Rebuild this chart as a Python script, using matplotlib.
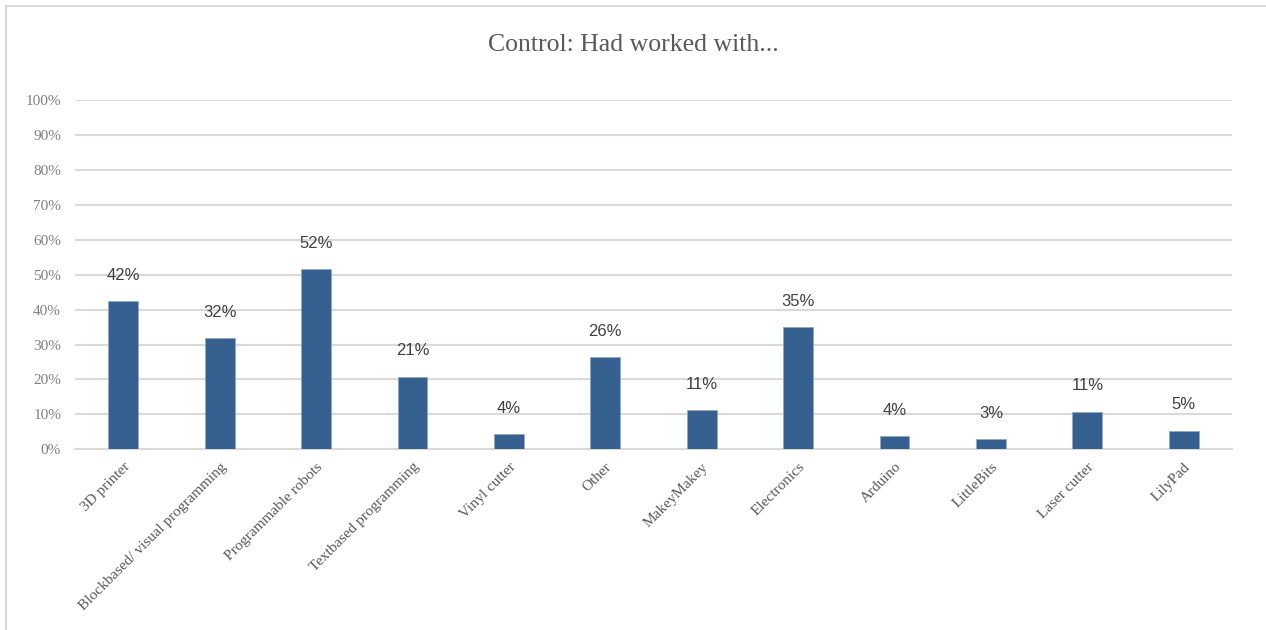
import matplotlib.pyplot as plt
from matplotlib.patches import Rectangle

# Share of control-group students who had worked with each tool
tools = ["3D printer", "Blockbased/ visual programming", "Programmable robots",
         "Textbased programming", "Vinyl cutter", "Other", "MakeyMakey",
         "Electronics", "Arduino", "LittleBits", "Laser cutter", "LilyPad"]
share = [42.4, 31.8, 51.6, 20.7, 4.3, 26.4, 11.2, 35.0, 3.8, 2.9, 10.8, 5.3]
y_ticks = [0, 10, 20, 30, 40, 50, 60, 70, 80, 90, 100]

bar_color = "#36608f"
grid_color = "#d9d9d9"
serif = ["Liberation Serif", "DejaVu Serif"]

fig = plt.figure(figsize=(12.66, 6.30), dpi=100)
ax = fig.add_axes([75 / 1266, 1 - 449.3 / 630, (1232 - 75) / 1266, (449.3 - 100) / 630])

x = list(range(len(tools)))
ax.bar(x, share, width=0.31, color=bar_color, edgecolor="#8ea9c8", linewidth=0.6, zorder=3)

for xi, v in zip(x, share):
    ax.annotate(f"{v:.0f}%", (xi, v), xytext=(0, 26), textcoords="offset pixels",
                ha="center", va="center", fontsize=12, color="#404040",
                family=["Liberation Sans", "DejaVu Sans"])

ax.set_xlim(-0.5, len(tools) - 0.5)
ax.set_ylim(0, 100)
ax.set_yticks(y_ticks)
ax.set_yticklabels([f"{t}%" for t in y_ticks], family=serif, fontsize=11, color="#7f7f7f")
ax.yaxis.grid(True, color=grid_color, linewidth=1.5, zorder=0)
ax.set_xticks(x)
ax.set_xticklabels(tools, rotation=45, ha="right", rotation_mode="anchor",
                   family=serif, fontsize=11, color="#595959")
ax.tick_params(axis="both", length=0)
ax.tick_params(axis="y", pad=10)
ax.tick_params(axis="x", pad=8)
for name, sp in ax.spines.items():
    sp.set_visible(name == "bottom")
ax.spines["bottom"].set_color(grid_color)
ax.spines["bottom"].set_linewidth(1.5)

fig.text(0.5, 1 - 45 / 630, "Control: Had worked with...", ha="center", va="center",
         fontsize=18.5, color="#595959", family=serif)

# light frame around the chart area
fig.patches.append(Rectangle((6 / 1266, -0.05), 1.1, 1 - 6 / 630 + 0.05, transform=fig.transFigure,
                             fill=False, edgecolor="#d9d9d9", linewidth=1.5))

fig.savefig("out.png", dpi=100)
